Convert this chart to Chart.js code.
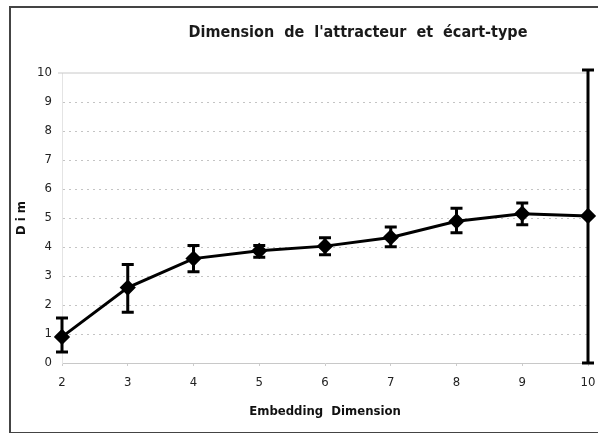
<!DOCTYPE html>
<html>
<head>
<meta charset="utf-8">
<script src="https://cdn.jsdelivr.net/npm/chart.js@4/dist/chart.umd.min.js"></script>
<style>
  body { margin: 0; background: #fff; overflow: hidden; }
  #frame { position: absolute; left: 9px; top: 6px; width: 700px; height: 424px; border: 2px solid #444; }
  #wrap { position: absolute; left: 0; top: 0; width: 598px; height: 433px; }
</style>
</head>
<body>
<div id="frame"></div>
<div id="wrap"><canvas id="chart"></canvas></div>
<script>
const embedDims = [2, 3, 4, 5, 6, 7, 8, 9, 10]
const dimValues = [0.9, 2.6, 3.6, 3.87, 4.03, 4.33, 4.89, 5.15, 5.07]
const errUpper = [1.55, 3.4, 4.05, 4.05, 4.32, 4.69, 5.34, 5.52, 10.1]
const errLower = [0.38, 1.75, 3.15, 3.65, 3.73, 4.01, 4.49, 4.77, 0]
const yTicks = [0, 1, 2, 3, 4, 5, 6, 7, 8, 9, 10]

const fontFam = "'Liberation Sans Narrow', 'DejaVu Sans Condensed', sans-serif"

let points = []
for (let i = 0; i < embedDims.length; i++) {
    points.push({ x: embedDims[i], y: dimValues[i] })
}

// title drawn by hand so it sits where the original one is
const titlePlugin = {
    id: 'titlePlugin',
    afterDraw(chart) {
        const c = chart.ctx
        c.save()
        c.font = "bold 16px " + fontFam
        c.fillStyle = '#1a1a1a'
        c.textAlign = 'center'
        c.textBaseline = 'middle'
        c.fillText("Dimension  de  l'attracteur  et  écart-type", 358, 33)
        c.restore()
    }
}

// solid top line at 10
const topLinePlugin = {
    id: 'topLine',
    beforeDatasetsDraw(chart) {
        const c = chart.ctx
        const y = chart.scales.y.getPixelForValue(10)
        c.save()
        c.strokeStyle = '#c8c8c8'
        c.lineWidth = 1
        c.beginPath()
        c.moveTo(chart.chartArea.left - 4, y)
        c.lineTo(chart.chartArea.right, y)
        c.stroke()
        c.restore()
    }
}

const errorBars = {
    id: 'errorBars',
    afterDatasetsDraw(chart) {
        const c = chart.ctx
        const xs = chart.scales.x
        const ys = chart.scales.y
        c.save()
        c.strokeStyle = '#000'
        c.lineWidth = 3
        for (let i = 0; i < embedDims.length; i++) {
            const px = xs.getPixelForValue(embedDims[i])
            const top = ys.getPixelForValue(errUpper[i])
            const bot = ys.getPixelForValue(errLower[i])
            c.beginPath()
            c.moveTo(px, top); c.lineTo(px, bot)
            c.moveTo(px - 6, top); c.lineTo(px + 6, top)
            c.moveTo(px - 6, bot); c.lineTo(px + 6, bot)
            c.stroke()
        }
        c.restore()
    }
}

const ctx = document.getElementById('chart').getContext('2d')
const chart = new Chart(ctx, {
    type: 'line',
    data: {
        datasets: [{
            label: 'Dim',
            data: points,
            borderColor: '#000',
            backgroundColor: '#000',
            borderWidth: 3,
            pointStyle: 'rectRot',
            pointRadius: 6,
            pointBackgroundColor: '#000',
            pointBorderColor: '#000',
            fill: false,
            tension: 0,
            clip: false
        }]
    },
    options: {
        responsive: true,
        maintainAspectRatio: false,
        animation: false,
        layout: { padding: { left: 10, right: 10, top: 73, bottom: 0 } },
        plugins: {
            legend: { display: false },
            title: { display: false },
            tooltip: { enabled: false }
        },
        scales: {
            x: {
                type: 'linear',
                min: 2,
                max: 10,
                afterFit: s => { s.height = 70; s.paddingLeft = 0; s.paddingRight = 0 },
                afterBuildTicks: s => { s.ticks = embedDims.map(v => ({ value: v })) },
                grid: { drawOnChartArea: false, drawTicks: true, tickLength: 3, color: '#ccc' },
                border: { color: '#c8c8c8', width: 1 },
                ticks: { padding: 9, color: '#222', font: { family: fontFam, size: 13 } },
                title: {
                    display: true,
                    text: 'Embedding  Dimension',
                    color: '#111',
                    font: { family: fontFam, size: 13, weight: 'bold' },
                    padding: { top: 0, bottom: 14 }
                }
            },
            y: {
                min: 0,
                max: 10,
                afterFit: s => { s.width = 52 },
                afterBuildTicks: s => { s.ticks = yTicks.map(v => ({ value: v })) },
                grid: {
                    drawTicks: false,
                    color: ctx => (ctx.tick && (ctx.tick.value === 0 || ctx.tick.value === 10)) ? 'rgba(0,0,0,0)' : '#c4c4c4'
                },
                border: { color: '#e4e4e4', width: 1, dash: [2, 4] },
                ticks: { padding: 10, color: '#222', font: { family: fontFam, size: 13 } },
                title: {
                    display: true,
                    text: 'D i m',
                    color: '#111',
                    font: { family: fontFam, size: 13, weight: 'bold' },
                    padding: { top: 4, bottom: 0 }
                }
            }
        }
    },
    plugins: [titlePlugin, topLinePlugin, errorBars]
})
</script>
</body>
</html>
